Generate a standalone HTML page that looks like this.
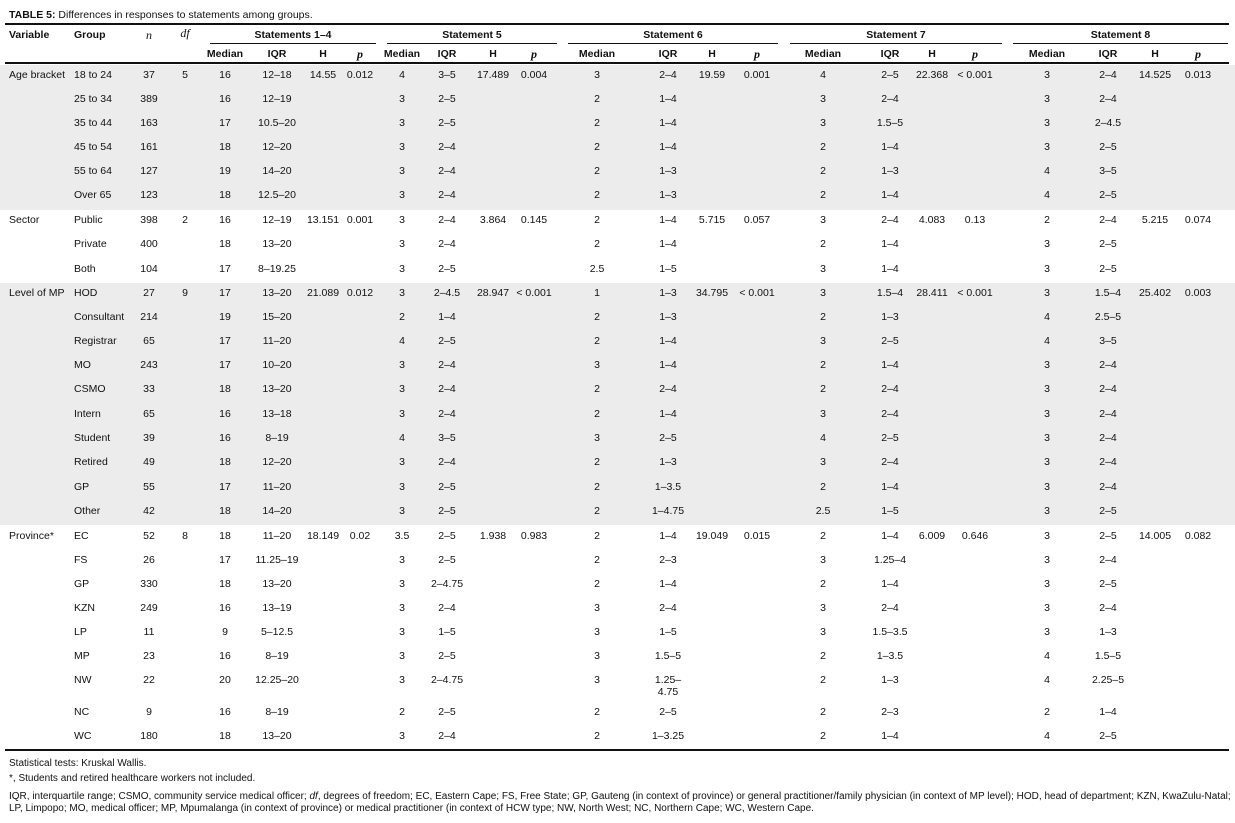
<!DOCTYPE html>
<html><head><meta charset="utf-8">
<style>
body{margin:0;background:#fff;width:1235px;height:823px;position:relative;overflow:hidden;font-family:"Liberation Sans",sans-serif;color:#111}
.t{position:absolute;font-size:10.5px;white-space:nowrap;line-height:12px}
.c{transform:translateX(-50%);text-align:center}
.b{font-weight:bold}
.i{font-style:italic;font-family:"Liberation Serif",serif;font-size:12px}
.band{position:absolute;left:0;width:1235px;background:#ececec}
.ln{position:absolute;background:#111}
.ft{position:absolute;left:9px;font-size:10px;line-height:12px;white-space:nowrap}
</style></head><body>
<div class="t" style="left:9px;top:9px;font-size:10.5px"><b>TABLE 5:</b> Differences in responses to statements among groups.</div>
<div class="band" style="top:65px;height:145px"></div>
<div class="band" style="top:283px;height:242px"></div>
<div class="ln" style="left:5px;width:1224px;top:23px;height:2px"></div>
<div class="ln" style="left:5px;width:1224px;top:62px;height:2px"></div>
<div class="ln" style="left:5px;width:1224px;top:749px;height:2px"></div>
<div id="root"></div>
<div class="ft" style="top:758px">Statistical tests: Kruskal Wallis.</div>
<div class="ft" style="top:773px">*, Students and retired healthcare workers not included.</div>
<div class="ft" style="top:791px">IQR, interquartile range; CSMO, community service medical officer; <i>df</i>, degrees of freedom; EC, Eastern Cape; FS, Free State; GP, Gauteng (in context of province) or general practitioner/family physician (in context of MP level); HOD, head of department; KZN, KwaZulu-Natal;</div>
<div class="ft" style="top:803px">LP, Limpopo; MO, medical officer; MP, Mpumalanga (in context of province) or medical practitioner (in context of HCW type; NW, North West; NC, Northern Cape; WC, Western Cape.</div>
<script>
const root=document.getElementById('root');
function txt(s,x,y,cls,name){const d=document.createElement('div');d.className='t '+(cls||'');d.style.left=x+'px';d.style.top=y+'px';d.innerHTML=s;


root.appendChild(d);return d;}
const groups=[['Statements 1–4',210,376],['Statement 5',387,557],['Statement 6',568,778],['Statement 7',790,1002],['Statement 8',1013,1228]];
const cols=[[225,277,323,360],[402,447,493,534],[597,668,712,757],[823,890,932,975],[1047,1108,1155,1198]];
txt('Variable',9,29,'b','header-variable');
txt('Group',74,29,'b','header-group');
txt('n',149,29,'c i','header-n');
txt('df',185,27,'c i','header-df');
groups.forEach((g,k)=>{
 txt(g[0],(g[1]+g[2])/2,29,'c b','header-statement');
 const l=document.createElement('div');l.className='ln';l.style.cssText=`left:${g[1]}px;width:${g[2]-g[1]}px;top:43px;height:1px`;
 
 
 root.appendChild(l);
 ['Median','IQR','H','p'].forEach((h,j)=>txt(h,cols[k][j],48,'c b'+(h==='p'?' i':''),'header-'+h.toLowerCase()));
});
const variables=[['Age bracket',0],['Sector',6],['Level of MP',9],['Province*',19]];
const rowY=[75,99,123,147,171,195,220,244,269,293,317,341,365,389,414,438,462,487,511,536,560,584,608,632,656,680,712,736];
const groupsCol=['18 to 24','25 to 34','35 to 44','45 to 54','55 to 64','Over 65','Public','Private','Both','HOD','Consultant','Registrar','MO','CSMO','Intern','Student','Retired','GP','Other','EC','FS','GP','KZN','LP','MP','NW','NC','WC'];
const nVals=[37,389,163,161,127,123,398,400,104,27,214,65,243,33,65,39,49,55,42,52,26,330,249,11,23,22,9,180];
const dfVals={0:'5',6:'2',9:'9',19:'8'};
const s14=[['16','12–18'],['16','12–19'],['17','10.5–20'],['18','12–20'],['19','14–20'],['18','12.5–20'],['16','12–19'],['18','13–20'],['17','8–19.25'],['17','13–20'],['19','15–20'],['17','11–20'],['17','10–20'],['18','13–20'],['16','13–18'],['16','8–19'],['18','12–20'],['17','11–20'],['18','14–20'],['18','11–20'],['17','11.25–19'],['18','13–20'],['16','13–19'],['9','5–12.5'],['16','8–19'],['20','12.25–20'],['16','8–19'],['18','13–20']];
const s5=[['4','3–5'],['3','2–5'],['3','2–5'],['3','2–4'],['3','2–4'],['3','2–4'],['3','2–4'],['3','2–4'],['3','2–5'],['3','2–4.5'],['2','1–4'],['4','2–5'],['3','2–4'],['3','2–4'],['3','2–4'],['4','3–5'],['3','2–4'],['3','2–5'],['3','2–5'],['3.5','2–5'],['3','2–5'],['3','2–4.75'],['3','2–4'],['3','1–5'],['3','2–5'],['3','2–4.75'],['2','2–5'],['3','2–4']];
const s6=[['3','2–4'],['2','1–4'],['2','1–4'],['2','1–4'],['2','1–3'],['2','1–3'],['2','1–4'],['2','1–4'],['2.5','1–5'],['1','1–3'],['2','1–3'],['2','1–4'],['3','1–4'],['2','2–4'],['2','1–4'],['3','2–5'],['2','1–3'],['2','1–3.5'],['2','1–4.75'],['2','1–4'],['2','2–3'],['2','1–4'],['3','2–4'],['3','1–5'],['3','1.5–5'],['3','1.25–<br>4.75'],['2','2–5'],['2','1–3.25']];
const s7=[['4','2–5'],['3','2–4'],['3','1.5–5'],['2','1–4'],['2','1–3'],['2','1–4'],['3','2–4'],['2','1–4'],['3','1–4'],['3','1.5–4'],['2','1–3'],['3','2–5'],['2','1–4'],['2','2–4'],['3','2–4'],['4','2–5'],['3','2–4'],['2','1–4'],['2.5','1–5'],['2','1–4'],['3','1.25–4'],['2','1–4'],['3','2–4'],['3','1.5–3.5'],['2','1–3.5'],['2','1–3'],['2','2–3'],['2','1–4']];
const s8=[['3','2–4'],['3','2–4'],['3','2–4.5'],['3','2–5'],['4','3–5'],['4','2–5'],['2','2–4'],['3','2–5'],['3','2–5'],['3','1.5–4'],['4','2.5–5'],['4','3–5'],['3','2–4'],['3','2–4'],['3','2–4'],['3','2–4'],['3','2–4'],['3','2–4'],['3','2–5'],['3','2–5'],['3','2–4'],['3','2–5'],['3','2–4'],['3','1–3'],['4','1.5–5'],['4','2.25–5'],['2','1–4'],['4','2–5']];
const hp={0:[['14.55','0.012'],['17.489','0.004'],['19.59','0.001'],['22.368','&lt; 0.001'],['14.525','0.013']],
6:[['13.151','0.001'],['3.864','0.145'],['5.715','0.057'],['4.083','0.13'],['5.215','0.074']],
9:[['21.089','0.012'],['28.947','&lt; 0.001'],['34.795','&lt; 0.001'],['28.411','&lt; 0.001'],['25.402','0.003']],
19:[['18.149','0.02'],['1.938','0.983'],['19.049','0.015'],['6.009','0.646'],['14.005','0.082']]};
const OFF=-6;
variables.forEach(v=>txt(v[0],9,rowY[v[1]]+OFF,'','variable-label'));
const stats=[s14,s5,s6,s7,s8];
rowY.forEach((yy,i)=>{
 const y=yy+OFF;
 txt(groupsCol[i],74,y,'','group-label');
 txt(String(nVals[i]),149,y,'c','n-value');
 if(dfVals[i])txt(dfVals[i],185,y,'c','df-value');
 stats.forEach((s,k)=>{
  txt(s[i][0],cols[k][0],y,'c','median-value');
  txt(s[i][1],cols[k][1],y,'c','iqr-value');
  if(hp[i]){txt(hp[i][k][0],cols[k][2],y,'c','h-value');txt(hp[i][k][1],cols[k][3],y,'c','p-value');}
 });
});
</script>
</body></html>
